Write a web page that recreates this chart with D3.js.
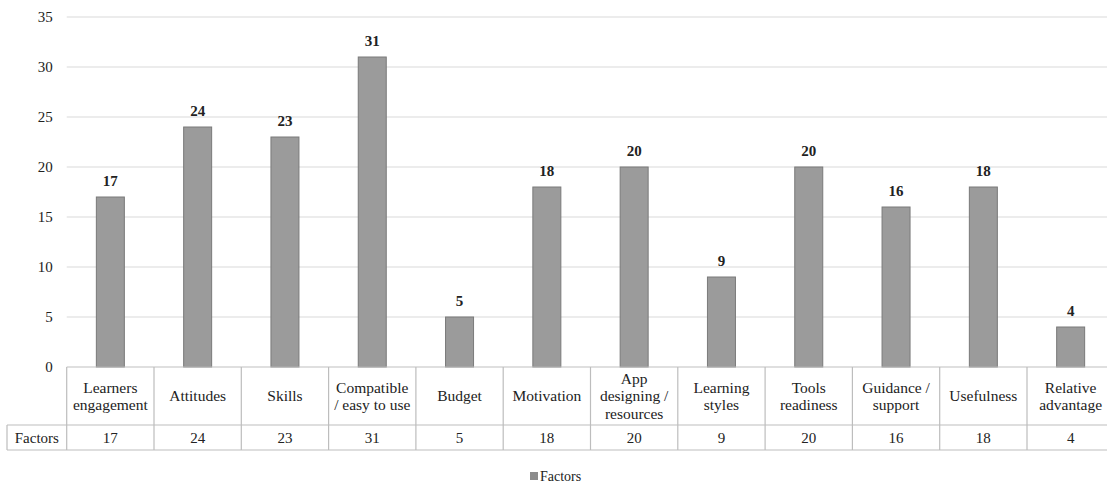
<!DOCTYPE html>
<html>
<head>
<meta charset="utf-8">
<script src="https://cdn.jsdelivr.net/npm/d3@7/dist/d3.min.js"></script>
<style>
  html, body { margin: 0; padding: 0; background: #fff; }
  svg { display: block; }
  svg text { font-family: "Liberation Serif", Tinos, "DejaVu Serif", serif; }
</style>
</head>
<body>
<svg id="chart" width="1107" height="483"></svg>
<script>
// Factor categories (multi-line labels split with "\n")
const categories = [
  "Learners\nengagement", "Attitudes", "Skills", "Compatible\n/ easy to use",
  "Budget", "Motivation", "App\ndesigning /\nresources", "Learning\nstyles",
  "Tools\nreadiness", "Guidance /\nsupport", "Usefulness", "Relative\nadvantage"
];
const factorValues = [17, 24, 23, 31, 5, 18, 20, 9, 20, 16, 18, 4];
const yTicks = [0, 5, 10, 15, 20, 25, 30, 35];
const seriesName = "Factors";

const INK = "#222";

const svg = d3.select("#chart");

const plotLeft = 66.7, colWidth = 87.3;
const plotRight = plotLeft + colWidth * categories.length;
const yTop = 17, yBottom = 367;
const headerBottom = 425, rowBottom = 450, rowHeaderLeft = 7;

const x = d3.scaleBand()
  .domain(categories.map((d, i) => i))
  .range([plotLeft, plotRight])
  .paddingInner(0).paddingOuter(0);

const y = d3.scaleLinear().domain([0, 35]).range([yBottom, yTop]);

// Horizontal gridlines
svg.append("g")
  .selectAll("line")
  .data(yTicks.filter(t => t > 0))
  .join("line")
  .attr("x1", plotLeft).attr("x2", plotRight)
  .attr("y1", d => y(d)).attr("y2", d => y(d))
  .attr("stroke", "#d9d9d9").attr("stroke-width", 1.2);

// Y axis tick labels
const yAxis = d3.axisLeft(y).tickValues(yTicks).tickSize(0).tickPadding(14);
const yg = svg.append("g").attr("transform", `translate(${plotLeft},0)`).call(yAxis);
yg.attr("font-size", 15);
yg.select(".domain").remove();
yg.selectAll("text").attr("fill", INK);

// Bars
const barW = 28;
svg.append("g")
  .selectAll("rect")
  .data(factorValues)
  .join("rect")
  .attr("x", (d, i) => x(i) + x.bandwidth() / 2 - barW / 2)
  .attr("y", d => y(d))
  .attr("width", barW)
  .attr("height", d => y(0) - y(d))
  .attr("fill", "#9b9b9b")
  .attr("stroke", "#7a7a7a").attr("stroke-width", 1);

// Value labels above bars
svg.append("g")
  .selectAll("text")
  .data(factorValues)
  .join("text")
  .attr("x", (d, i) => x(i) + x.bandwidth() / 2)
  .attr("y", d => y(d) - 16)
  .attr("dy", "0.35em")
  .attr("text-anchor", "middle")
  .attr("font-size", 15).attr("font-weight", "bold").attr("fill", INK)
  .text(d => d);

// Data table beneath the axis
const grid = svg.append("g").attr("stroke", "#bdbdbd").attr("stroke-width", 1.2);
grid.append("line").attr("x1", plotLeft).attr("x2", plotRight).attr("y1", yBottom).attr("y2", yBottom).attr("stroke", "#bfbfbf");
grid.append("line").attr("x1", rowHeaderLeft).attr("x2", plotRight).attr("y1", headerBottom).attr("y2", headerBottom);
grid.append("line").attr("x1", rowHeaderLeft).attr("x2", plotRight).attr("y1", rowBottom).attr("y2", rowBottom);
grid.append("line").attr("x1", rowHeaderLeft).attr("x2", rowHeaderLeft).attr("y1", headerBottom).attr("y2", rowBottom);
grid.selectAll(".vcol")
  .data(d3.range(categories.length + 1))
  .join("line")
  .attr("x1", i => plotLeft + i * colWidth).attr("x2", i => plotLeft + i * colWidth)
  .attr("y1", yBottom).attr("y2", rowBottom);

// Category labels in header row
const lineH = 17.5;
svg.append("g")
  .selectAll("text")
  .data(categories)
  .join("text")
  .attr("text-anchor", "middle")
  .attr("font-size", 15.5).attr("fill", INK)
  .each(function (d, i) {
    const lines = d.split("\n");
    const cy = (yBottom + headerBottom) / 2;
    const start = cy - (lines.length - 1) * lineH / 2;
    d3.select(this).selectAll("tspan")
      .data(lines)
      .join("tspan")
      .attr("x", x(i) + x.bandwidth() / 2)
      .attr("y", (l, j) => start + j * lineH)
      .attr("dy", "0.35em")
      .text(l => l);
  });

// Row header and values row
const rowMid = (headerBottom + rowBottom) / 2;
svg.append("text")
  .attr("x", (rowHeaderLeft + plotLeft) / 2).attr("y", rowMid).attr("dy", "0.35em")
  .attr("text-anchor", "middle").attr("font-size", 15).attr("fill", INK)
  .text(seriesName);
svg.append("g")
  .selectAll("text")
  .data(factorValues)
  .join("text")
  .attr("x", (d, i) => x(i) + x.bandwidth() / 2)
  .attr("y", rowMid).attr("dy", "0.35em")
  .attr("text-anchor", "middle").attr("font-size", 15).attr("fill", INK)
  .text(d => d);

// Legend
const legend = svg.append("g").attr("transform", "translate(530,476)");
legend.append("rect").attr("x", 0).attr("y", -4).attr("width", 8).attr("height", 8).attr("fill", "#8c8c8c");
legend.append("text").attr("x", 10).attr("y", 0).attr("dy", "0.35em")
  .attr("font-size", 14).attr("fill", INK).text(seriesName);
</script>
</body>
</html>
